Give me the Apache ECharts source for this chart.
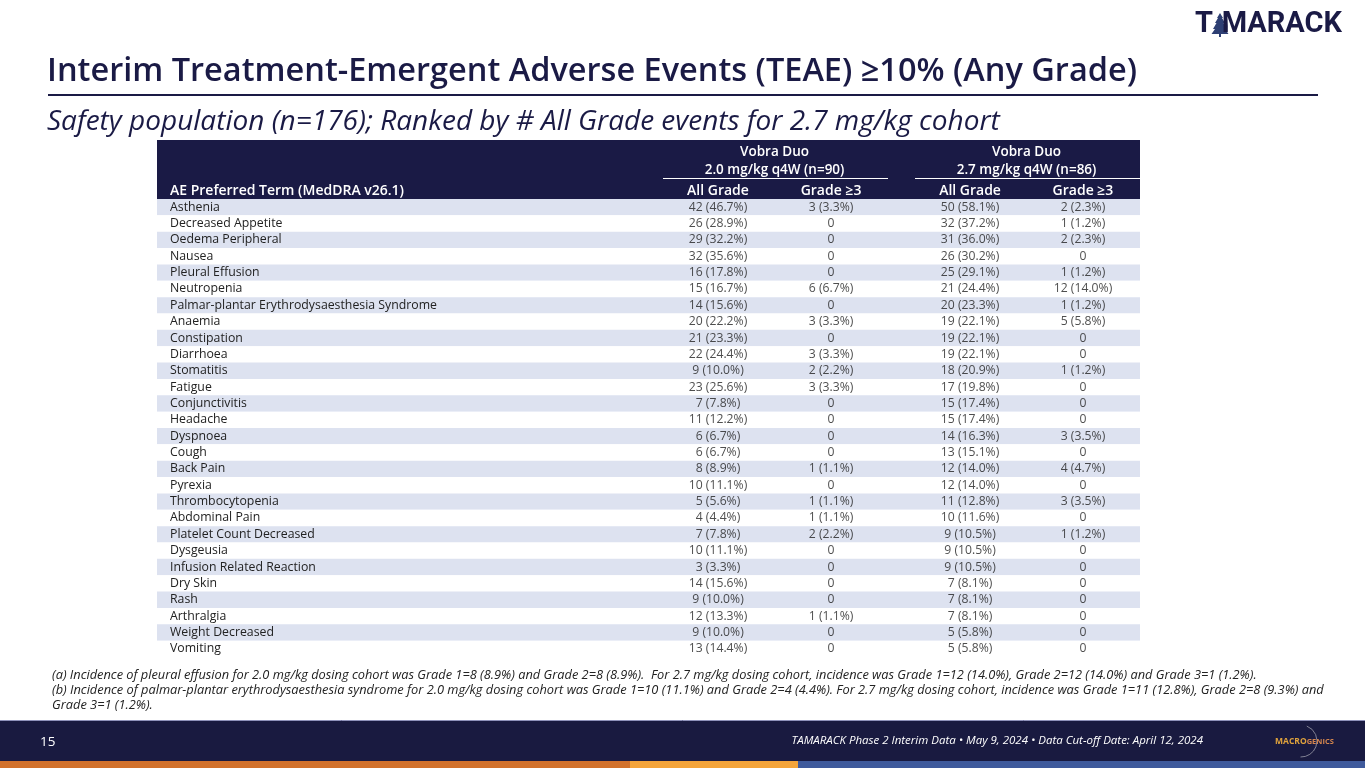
<!DOCTYPE html>
<html>
<head>
<meta charset="utf-8">
<script src="https://cdn.jsdelivr.net/npm/echarts@6/dist/echarts.min.js"></script>
<style>
html,body{margin:0;padding:0;background:#fff;}
#main{width:1365px;height:768px;}
</style>
</head>
<body>
<div id="main"></div>
<script>
// AE terms, ranked by All Grade for 2.7 mg/kg cohort
var terms = ['Asthenia','Decreased Appetite','Oedema Peripheral','Nausea','Pleural Effusion','Neutropenia',
  'Palmar-plantar Erythrodysaesthesia Syndrome','Anaemia','Constipation','Diarrhoea','Stomatitis','Fatigue',
  'Conjunctivitis','Headache','Dyspnoea','Cough','Back Pain','Pyrexia','Thrombocytopenia','Abdominal Pain',
  'Platelet Count Decreased','Dysgeusia','Infusion Related Reaction','Dry Skin','Rash','Arthralgia',
  'Weight Decreased','Vomiting'];

// 2.0 mg/kg q4W (n=90)
var all20  = [42,26,29,32,16,15,14,20,21,22,9,23,7,11,6,6,8,10,5,4,7,10,3,14,9,12,9,13];
var pAll20 = [46.7,28.9,32.2,35.6,17.8,16.7,15.6,22.2,23.3,24.4,10.0,25.6,7.8,12.2,6.7,6.7,8.9,11.1,5.6,4.4,7.8,11.1,3.3,15.6,10.0,13.3,10.0,14.4];
var g3_20  = [3,0,0,0,0,6,0,3,0,3,2,3,0,0,0,0,1,0,1,1,2,0,0,0,0,1,0,0];
var pG3_20 = [3.3,0,0,0,0,6.7,0,3.3,0,3.3,2.2,3.3,0,0,0,0,1.1,0,1.1,1.1,2.2,0,0,0,0,1.1,0,0];

// 2.7 mg/kg q4W (n=86)
var all27  = [50,32,31,26,25,21,20,19,19,19,18,17,15,15,14,13,12,12,11,10,9,9,9,7,7,7,5,5];
var pAll27 = [58.1,37.2,36.0,30.2,29.1,24.4,23.3,22.1,22.1,22.1,20.9,19.8,17.4,17.4,16.3,15.1,14.0,14.0,12.8,11.6,10.5,10.5,10.5,8.1,8.1,8.1,5.8,5.8];
var g3_27  = [2,1,2,0,1,12,1,5,0,0,1,0,0,0,3,0,4,0,3,0,1,0,0,0,0,0,0,0];
var pG3_27 = [2.3,1.2,2.3,0,1.2,14.0,1.2,5.8,0,0,1.2,0,0,0,3.5,0,4.7,0,3.5,0,1.2,0,0,0,0,0,0,0];

// header labels
var groupTitle = 'Vobra Duo';
var groupLabels = ['2.0 mg/kg q4W (n=90)', '2.7 mg/kg q4W (n=86)'];
var colHeaders = ['All Grade', 'Grade \u22653', 'All Grade', 'Grade \u22653'];
var termHeader = 'AE Preferred Term (MedDRA v26.1)';

var footnotes = [
  '(a) Incidence of pleural effusion for 2.0 mg/kg dosing cohort was Grade 1=8 (8.9%) and Grade 2=8 (8.9%).  For 2.7 mg/kg dosing cohort, incidence was Grade 1=12 (14.0%), Grade 2=12 (14.0%) and Grade 3=1 (1.2%).',
  '(b) Incidence of palmar-plantar erythrodysaesthesia syndrome for 2.0 mg/kg dosing cohort was Grade 1=10 (11.1%) and Grade 2=4 (4.4%). For 2.7 mg/kg dosing cohort, incidence was Grade 1=11 (12.8%), Grade 2=8 (9.3%) and',
  'Grade 3=1 (1.2%).'
];

var NAVY = '#1a1a45';
var FONT = '"Open Sans", "Noto Sans", sans-serif';
// column centres on a 0..1 x scale across the table width
var colX = [0.5707, 0.6857, 0.8271, 0.9420];

function cell(n, p) {
  return n === 0 ? '0' : n + ' (' + p.toFixed(1) + '%)';
}
function colData(x, counts, pcts) {
  return counts.map(function (n, i) { return [x, i, cell(n, pcts[i])]; });
}
function colSeries(x, counts, pcts) {
  return {
    type: 'scatter',
    symbolSize: 0,
    silent: true,
    data: colData(x, counts, pcts),
    label: {
      show: true,
      position: 'inside',
      formatter: function (p) { return p.data[2]; },
      color: '#222',
      fontFamily: FONT,
      fontSize: 12.2
    }
  };
}

var chart = echarts.init(document.getElementById('main'));

var option = {
  animation: false,
  backgroundColor: '#fff',
  grid: { left: 157, top: 199, width: 983, height: 458 },
  xAxis: {
    type: 'value', min: 0, max: 1,
    show: false
  },
  yAxis: {
    type: 'category',
    data: terms,
    inverse: true,
    axisLine: { show: false },
    axisTick: { show: false, interval: 0 },
    axisLabel: {
      inside: true, interval: 0, margin: 13,
      color: '#222', fontFamily: FONT, fontSize: 12.3
    },
    splitLine: { show: false },
    splitArea: { show: true, interval: 0, areaStyle: { color: ['#dde2f0', '#ffffff'] } }
  },
  series: [
    colSeries(colX[0], all20, pAll20),
    colSeries(colX[1], g3_20, pG3_20),
    colSeries(colX[2], all27, pAll27),
    colSeries(colX[3], g3_27, pG3_27)
  ]
};
chart.setOption(option);

// header / page furniture placed against the x scale
var px = colX.map(function (v) { return chart.convertToPixel({ xAxisIndex: 0 }, v); });
var g1 = (px[0] + px[1]) / 2, g2 = (px[2] + px[3]) / 2;
var g = [];
function txt(x, y, s, st) {
  var style = Object.assign({ text: s, x: x, y: y, fill: NAVY, font: '13px ' + FONT, textAlign: 'left', textVerticalAlign: 'middle' }, st || {});
  g.push({ type: 'text', style: style, silent: true });
}
function rect(x, y, w, h, c) {
  g.push({ type: 'rect', shape: { x: x, y: y, width: w, height: h }, style: { fill: c }, silent: true });
}
function line(x1, y1, x2, y2, c, w) {
  g.push({ type: 'line', shape: { x1: x1, y1: y1, x2: x2, y2: y2 }, style: { stroke: c, lineWidth: w }, silent: true });
}

// title block
txt(47, 72, 'Interim Treatment-Emergent Adverse Events (TEAE) \u226510% (Any Grade)', { font: '600 32.5px ' + FONT });
line(48, 95, 1318, 95, NAVY, 2);
txt(47, 122, 'Safety population (n=176); Ranked by # All Grade events for 2.7 mg/kg cohort', { font: 'italic 28px ' + FONT });

// logo
txt(1195, 25, 'T', { font: 'bold 29px Roboto, ' + FONT });
g.push({ type: 'polygon', silent: true, style: { fill: '#2e3f73' }, shape: { points: [
  [1220, 13], [1223, 18], [1222, 18], [1225, 23], [1223.5, 23], [1227, 29], [1225, 29], [1228.5, 34],
  [1221, 34], [1221, 37], [1219, 37], [1219, 34], [1211.5, 34], [1215, 29], [1213, 29], [1216.5, 23],
  [1215, 23], [1218, 18], [1217, 18]] } });
txt(1342, 25, 'MARACK', { font: 'bold 29px Roboto, ' + FONT, textAlign: 'right' });

// table header
rect(157, 140, 983, 59, NAVY);
txt(g1, 152, groupTitle, { fill: '#fff', font: '600 13.5px ' + FONT, textAlign: 'center' });
txt(g2, 152, groupTitle, { fill: '#fff', font: '600 13.5px ' + FONT, textAlign: 'center' });
txt(g1, 170, groupLabels[0], { fill: '#fff', font: '600 13.5px ' + FONT, textAlign: 'center' });
txt(g2, 170, groupLabels[1], { fill: '#fff', font: '600 13.5px ' + FONT, textAlign: 'center' });
line(663, 178.5, 888, 178.5, '#fff', 1);
line(915, 178.5, 1140, 178.5, '#fff', 1);
txt(170, 191, termHeader, { fill: '#fff', font: '600 14px ' + FONT });
colHeaders.forEach(function (h, i) {
  txt(px[i], 191, h, { fill: '#fff', font: '600 14px ' + FONT, textAlign: 'center' });
});

// footnotes
footnotes.forEach(function (f, i) {
  txt(52, 675 + i * 15, f, { fill: '#222', font: 'italic 12.8px ' + FONT });
});

// footer band
rect(0, 720, 1365, 41, '#191a40');
line(0, 720.5, 1365, 720.5, '#8f92bb', 1);
rect(0, 761, 630, 7, '#d2712c');
rect(630, 761, 168, 7, '#f4a43a');
rect(798, 761, 567, 7, '#3f5a9c');
txt(40, 742, '15', { fill: '#fff', font: '13.5px ' + FONT });
txt(1203, 741, 'TAMARACK Phase 2 Interim Data \u2022 May 9, 2024 \u2022 Data Cut-off Date: April 12, 2024',
  { fill: '#fff', font: 'italic 11.5px ' + FONT, textAlign: 'right' });
g.push({ type: 'arc', silent: true, shape: { cx: 1301, cy: 741, r: 16, startAngle: -1.2, endAngle: 1.6 },
  style: { stroke: '#9a9aa8', lineWidth: 0.8, fill: null } });
g.push({ type: 'text', silent: true, style: {
  x: 1275, y: 742, textVerticalAlign: 'middle', text: '{a|MACRO}{b|GENICS}',
  rich: {
    a: { fill: '#e0a33c', font: 'bold 8.5px ' + FONT },
    b: { fill: '#d6874e', font: 'bold 7.5px ' + FONT }
  }
} });

chart.setOption({ graphic: g });
</script>
</body>
</html>
